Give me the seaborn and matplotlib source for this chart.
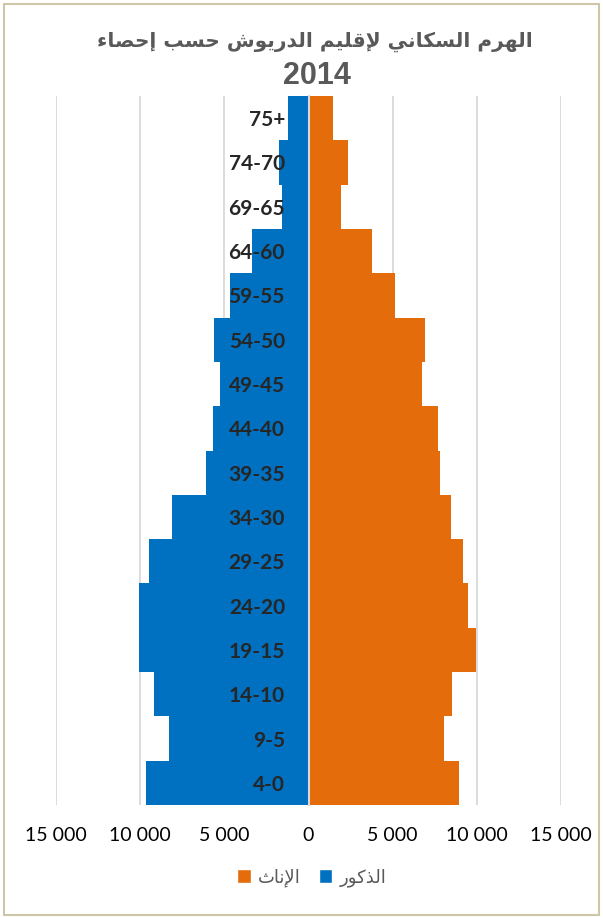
import pandas as pd
import seaborn as sns
import matplotlib.pyplot as plt
from matplotlib.patches import Patch, Rectangle
from matplotlib.ticker import FuncFormatter

# faixas etarias, de cima para baixo
IDADES = ['75+', '74-70', '69-65', '64-60', '59-55', '54-50', '49-45', '44-40',
          '39-35', '34-30', '29-25', '24-20', '19-15', '14-10', '9-5', '4-0']
HOMENS = [1240, 1760, 1600, 3330, 4650, 5590, 5270, 5690,
          6110, 8120, 9480, 10040, 10060, 9200, 8300, 9680]
MULHERES = [1480, 2350, 1960, 3770, 5110, 6910, 6770, 7700,
            7800, 8440, 9160, 9500, 9980, 8520, 8020, 8940]
TICKS_X = [-15000, -10000, -5000, 0, 5000, 10000, 15000]

TITULO = 'الهرم السكاني لإقليم الدريوش حسب إحصاء'
ANO = '2014'
ROTULO_H = 'الذكور'
ROTULO_M = 'الإناث'

AZUL = '#0070c0'
LARANJA = '#e46c0a'
CINZA = '#595959'

# matplotlib 3.10 nao faz "shaping" do arabe: converte para formas de apresentacao
FORMAS = {'ء': (0xFE80, 1), 'إ': (0xFE87, 2), 'ا': (0xFE8D, 2), 'ب': (0xFE8F, 4),
          'ث': (0xFE99, 4), 'ح': (0xFEA1, 4), 'د': (0xFEA9, 2), 'ذ': (0xFEAB, 2),
          'ر': (0xFEAD, 2), 'س': (0xFEB1, 4), 'ش': (0xFEB5, 4), 'ص': (0xFEB9, 4),
          'ق': (0xFED5, 4), 'ك': (0xFED9, 4), 'ل': (0xFEDD, 4), 'م': (0xFEE1, 4),
          'ن': (0xFEE5, 4), 'ه': (0xFEE9, 4), 'و': (0xFEED, 2), 'ي': (0xFEF1, 4)}
LAM_ALEF = {'ا': 0xFEFB, 'إ': 0xFEF9}


def moldar(texto):
    unidades = []
    i = 0
    while i < len(texto):
        c = texto[i]
        if c == 'ل' and i + 1 < len(texto) and texto[i + 1] in LAM_ALEF:
            unidades.append((LAM_ALEF[texto[i + 1]], 2))
            i += 2
        elif c in FORMAS:
            unidades.append(FORMAS[c])
            i += 1
        else:
            unidades.append((c, 0))
            i += 1
    saida = []
    for k, (base, n) in enumerate(unidades):
        if n == 0:
            saida.append(base)
            continue
        ant = k > 0 and unidades[k - 1][1] == 4 and n >= 2
        prox = n == 4 and k + 1 < len(unidades) and unidades[k + 1][1] >= 2
        if ant and prox:
            idx = 3
        elif ant:
            idx = 1
        elif prox:
            idx = 2
        else:
            idx = 0
        saida.append(chr(base + idx))
    return ''.join(reversed(saida))


df = pd.DataFrame({
    'idade': IDADES * 2,
    'valor': [-v for v in HOMENS] + MULHERES,
    'sexo': ['H'] * len(IDADES) + ['M'] * len(IDADES),
})

sns.set_style('white')
plt.rcParams['font.family'] = ['Lato', 'DejaVu Sans']

fig = plt.figure(figsize=(6.03, 9.17), dpi=100)
ax = fig.add_axes([56 / 603, 1 - 805 / 917, 505 / 603, 709 / 917])

sns.barplot(data=df, x='valor', y='idade', hue='sexo', order=IDADES,
            hue_order=['H', 'M'], palette=[AZUL, LARANJA], dodge=False,
            width=1.0, orient='h', saturation=1, linewidth=0, legend=False, ax=ax)

ax.set_xlim(-15000, 15000)
ax.set_xticks(TICKS_X)
ax.xaxis.set_major_formatter(FuncFormatter(lambda v, p: f'{abs(int(v)):,}'.replace(',', ' ')))
ax.set_axisbelow(True)
ax.xaxis.grid(True, color='#d9d9d9', lw=1.3)
ax.yaxis.grid(False)
ax.yaxis.set_zorder(5)
for s in ['top', 'right', 'bottom']:
    ax.spines[s].set_visible(False)
ax.spines['left'].set_position(('data', 0))
ax.spines['left'].set_color('#d9d9d9')
ax.spines['left'].set_linewidth(1.5)
ax.spines['left'].set_zorder(3)
ax.set_xlabel('')
ax.set_ylabel('')
ax.tick_params(axis='x', length=0, pad=16, labelsize=14, labelcolor='black')
ax.tick_params(axis='y', length=0, pad=17, labelsize=15)
for t in ax.get_yticklabels():
    t.set_fontweight('bold')

fig.text(0.522, 0.955, moldar(TITULO), ha='center', va='center', fontsize=14.5,
         fontweight='bold', color=CINZA, family=['DejaVu Sans'])
fig.text(0.525, 0.917, ANO, ha='center', va='center', fontsize=22,
         fontweight='bold', color=CINZA, family=['Liberation Sans'])

alcas = [Patch(facecolor=LARANJA, label=moldar(ROTULO_M)),
         Patch(facecolor=AZUL, label=moldar(ROTULO_H))]
leg = fig.legend(handles=alcas, loc='center', bbox_to_anchor=(0.517, 0.043), ncol=2,
                 frameon=False, handlelength=0.75, handleheight=0.75, handletextpad=0.4,
                 columnspacing=1.0, prop={'family': 'DejaVu Sans', 'size': 13})
for t in leg.get_texts():
    t.set_color(CINZA)

fig.patches.append(Rectangle((4 / 603, 2 / 917), 595 / 603, 911 / 917, transform=fig.transFigure,
                             fill=False, edgecolor='#cdc6a8', lw=1.5))

fig.savefig('out.png', dpi=100)
